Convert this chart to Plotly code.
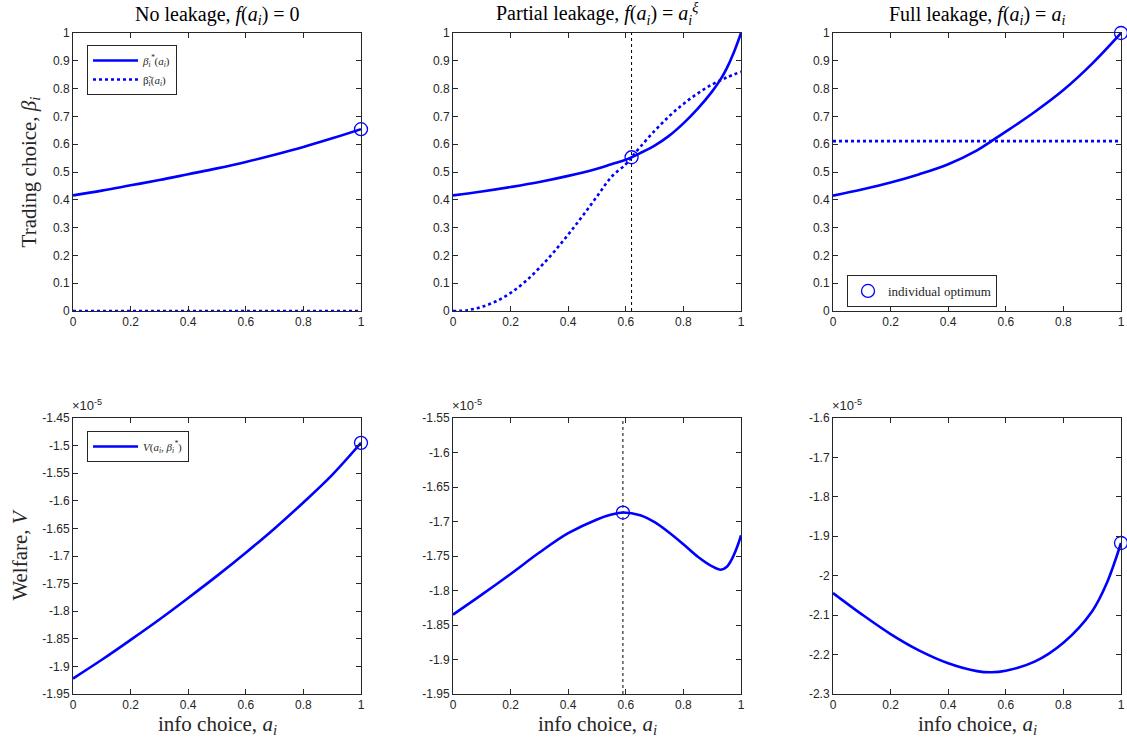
import plotly.graph_objects as go

# ---------------- data ----------------
a_grid = [0, 0.1, 0.2, 0.3, 0.4, 0.5, 0.6, 0.7, 0.8, 0.9, 1.0]

# Top row: trading choice
noleak_beta_star = [0.416, 0.433, 0.452, 0.471, 0.492, 0.513, 0.536, 0.562, 0.590, 0.621, 0.654]
noleak_beta_tilde = [0, 0, 0, 0, 0, 0, 0, 0, 0, 0, 0]

partial_a = [0, 0.1, 0.2, 0.3, 0.4, 0.5, 0.55, 0.6, 0.62, 0.65, 0.7, 0.75, 0.8, 0.85, 0.9, 0.93, 0.95, 0.975, 1.0]
partial_beta_star = [0.416, 0.430, 0.446, 0.464, 0.486, 0.512, 0.528, 0.544, 0.553, 0.568, 0.595, 0.630,
                     0.675, 0.728, 0.790, 0.835, 0.872, 0.930, 1.0]
partial_a_tilde = [0, 0.05, 0.1, 0.15, 0.2, 0.25, 0.3, 0.35, 0.4, 0.45, 0.5, 0.55, 0.6, 0.62, 0.65, 0.7,
                   0.75, 0.8, 0.85, 0.9, 0.95, 1.0]
partial_beta_tilde = [0, 0.003, 0.015, 0.035, 0.065, 0.105, 0.155, 0.212, 0.275, 0.342, 0.412, 0.482,
                      0.528, 0.553, 0.590, 0.648, 0.700, 0.745, 0.783, 0.815, 0.840, 0.861]

full_a = [0, 0.1, 0.2, 0.3, 0.4, 0.5, 0.55, 0.6, 0.7, 0.8, 0.9, 1.0]
full_beta_star = [0.415, 0.437, 0.462, 0.492, 0.528, 0.578, 0.611, 0.645, 0.716, 0.795, 0.890, 1.0]
full_beta_tilde = [0.611] * len(full_a)

# Bottom row: welfare (units of 1e-5)
noleak_welfare = [-1.922, -1.888, -1.852, -1.815, -1.776, -1.736, -1.694, -1.650, -1.603, -1.553, -1.495]

partial_wa = [0, 0.1, 0.2, 0.3, 0.4, 0.5, 0.55, 0.59, 0.65, 0.7, 0.75, 0.8, 0.85, 0.9, 0.93, 0.95, 0.97, 0.99, 1.0]
partial_welfare = [-1.835, -1.806, -1.776, -1.745, -1.717, -1.697, -1.690, -1.687, -1.691, -1.701, -1.716,
                   -1.733, -1.751, -1.765, -1.770, -1.766, -1.753, -1.733, -1.720]

full_wa = [0, 0.1, 0.2, 0.3, 0.4, 0.5, 0.55, 0.6, 0.7, 0.8, 0.9, 0.95, 1.0]
full_welfare = [-2.044, -2.098, -2.148, -2.190, -2.222, -2.242, -2.245, -2.241, -2.218, -2.170, -2.090,
                -2.020, -1.917]

# individual optima (a, value) per panel
opt_top = [(1.0, 0.654), (0.62, 0.553), (1.0, 1.0)]
opt_bottom = [(1.0, -1.495), (0.59, -1.687), (1.0, -1.917)]

# ticks
x_ticks = [0, 0.2, 0.4, 0.6, 0.8, 1.0]
x_ticktext = ["0", "0.2", "0.4", "0.6", "0.8", "1"]
top_yticks = [0, 0.1, 0.2, 0.3, 0.4, 0.5, 0.6, 0.7, 0.8, 0.9, 1.0]
top_yticktext = ["0", "0.1", "0.2", "0.3", "0.4", "0.5", "0.6", "0.7", "0.8", "0.9", "1"]
b1_yticks = [-1.95, -1.9, -1.85, -1.8, -1.75, -1.7, -1.65, -1.6, -1.55, -1.5, -1.45]
b1_yticktext = ["-1.95", "-1.9", "-1.85", "-1.8", "-1.75", "-1.7", "-1.65", "-1.6", "-1.55", "-1.5", "-1.45"]
b2_yticks = [-1.95, -1.9, -1.85, -1.8, -1.75, -1.7, -1.65, -1.6, -1.55]
b2_yticktext = ["-1.95", "-1.9", "-1.85", "-1.8", "-1.75", "-1.7", "-1.65", "-1.6", "-1.55"]
b3_yticks = [-2.3, -2.2, -2.1, -2.0, -1.9, -1.8, -1.7, -1.6]
b3_yticktext = ["-2.3", "-2.2", "-2.1", "-2", "-1.9", "-1.8", "-1.7", "-1.6"]

titles = ["No leakage, <i>f</i>(<i>a<sub>i</sub></i>) = 0",
          "Partial leakage, <i>f</i>(<i>a<sub>i</sub></i>) = <i>a<sub>i</sub><sup>ξ</sup></i>",
          "Full leakage, <i>f</i>(<i>a<sub>i</sub></i>) = <i>a<sub>i</sub></i>"]
x_title = "info choice, <i>a<sub>i</sub></i>"

# ---------------- figure ----------------
W, H = 1127, 743
BLUE = "#0000FF"
AX = "#262626"
SERIF = "Liberation Serif"
SANS = "Liberation Sans"

col_px = [(73, 361), (453, 741), (833, 1121)]
row_px = [(33, 311), (418, 694)]


def px_x(p):
    return p / W


def px_y(p):
    return (H - p) / H


def xdom(c):
    return [px_x(col_px[c][0]), px_x(col_px[c][1])]


def ydom(r):
    return [px_y(row_px[r][1]), px_y(row_px[r][0])]


fig = go.Figure()
line_w = 2.6


def ax(i):
    return ("x" if i == 1 else f"x{i}"), ("y" if i == 1 else f"y{i}")


# Top-left
xa, ya = ax(1)
fig.add_trace(go.Scatter(x=a_grid, y=noleak_beta_star, mode="lines", line=dict(color=BLUE, width=line_w, shape="spline"),
                         name="<i>β<sub>i</sub><sup>*</sup></i>(<i>a<sub>i</sub></i>)", xaxis=xa, yaxis=ya, legend="legend"))
fig.add_trace(go.Scatter(x=a_grid, y=noleak_beta_tilde, mode="lines", line=dict(color=BLUE, width=line_w, dash="dot"),
                         name="β̃<sub>i</sub>(<i>a<sub>i</sub></i>)", xaxis=xa, yaxis=ya, legend="legend", cliponaxis=False))
# Top-middle
xa, ya = ax(2)
fig.add_trace(go.Scatter(x=[opt_top[1][0]] * 2, y=[0, 1], mode="lines", line=dict(color="black", width=1, dash="dot"),
                         showlegend=False, xaxis=xa, yaxis=ya))
fig.add_trace(go.Scatter(x=partial_a, y=partial_beta_star, mode="lines", line=dict(color=BLUE, width=line_w, shape="spline"),
                         showlegend=False, xaxis=xa, yaxis=ya))
fig.add_trace(go.Scatter(x=partial_a_tilde, y=partial_beta_tilde, mode="lines",
                         line=dict(color=BLUE, width=line_w, dash="dot", shape="spline"),
                         showlegend=False, xaxis=xa, yaxis=ya, cliponaxis=False))
# Top-right
xa, ya = ax(3)
fig.add_trace(go.Scatter(x=full_a, y=full_beta_star, mode="lines", line=dict(color=BLUE, width=line_w, shape="spline"),
                         showlegend=False, xaxis=xa, yaxis=ya))
fig.add_trace(go.Scatter(x=full_a, y=full_beta_tilde, mode="lines", line=dict(color=BLUE, width=line_w, dash="dot"),
                         showlegend=False, xaxis=xa, yaxis=ya))
# Bottom-left
xa, ya = ax(4)
fig.add_trace(go.Scatter(x=a_grid, y=noleak_welfare, mode="lines", line=dict(color=BLUE, width=line_w, shape="spline"),
                         name="<i>V</i>(<i>a<sub>i</sub></i>, <i>β<sub>i</sub><sup>*</sup></i>)", xaxis=xa, yaxis=ya, legend="legend3"))
# Bottom-middle
xa, ya = ax(5)
fig.add_trace(go.Scatter(x=[opt_bottom[1][0]] * 2, y=[-1.95, -1.55], mode="lines",
                         line=dict(color="black", width=1, dash="dot"), showlegend=False, xaxis=xa, yaxis=ya))
fig.add_trace(go.Scatter(x=partial_wa, y=partial_welfare, mode="lines", line=dict(color=BLUE, width=line_w, shape="spline"),
                         showlegend=False, xaxis=xa, yaxis=ya))
# Bottom-right
xa, ya = ax(6)
fig.add_trace(go.Scatter(x=full_wa, y=full_welfare, mode="lines", line=dict(color=BLUE, width=line_w, shape="spline"),
                         showlegend=False, xaxis=xa, yaxis=ya))

# optimum markers
for i, (ox, oy) in enumerate(opt_top):
    xa, ya = ax(i + 1)
    fig.add_trace(go.Scatter(x=[ox], y=[oy], mode="markers",
                             marker=dict(symbol="circle-open", size=13, color=BLUE, line=dict(width=1.3, color=BLUE)),
                             name="individual optimum", showlegend=(i == 2), legend="legend2",
                             xaxis=xa, yaxis=ya, cliponaxis=False))
for i, (ox, oy) in enumerate(opt_bottom):
    xa, ya = ax(i + 4)
    fig.add_trace(go.Scatter(x=[ox], y=[oy], mode="markers",
                             marker=dict(symbol="circle-open", size=13, color=BLUE, line=dict(width=1.3, color=BLUE)),
                             showlegend=False, xaxis=xa, yaxis=ya, cliponaxis=False))

axis_common = dict(showline=True, linecolor=AX, linewidth=1, mirror="ticks", ticks="inside", ticklen=5,
                   tickcolor=AX, showgrid=False, zeroline=False, automargin=False,
                   tickfont=dict(family=SANS, size=12, color=AX))

yspecs = [
    ([0, 1], top_yticks, top_yticktext),
    ([0, 1], top_yticks, top_yticktext),
    ([0, 1], top_yticks, top_yticktext),
    ([-1.95, -1.45], b1_yticks, b1_yticktext),
    ([-1.95, -1.55], b2_yticks, b2_yticktext),
    ([-2.3, -1.6], b3_yticks, b3_yticktext),
]

layout = {}
for i in range(6):
    r, c = divmod(i, 3)
    xname = "xaxis" if i == 0 else f"xaxis{i + 1}"
    yname = "yaxis" if i == 0 else f"yaxis{i + 1}"
    xa, ya = ax(i + 1)
    layout[xname] = dict(axis_common, domain=xdom(c), range=[0, 1], tickvals=x_ticks, ticktext=x_ticktext,
                         anchor=ya)
    rng, tv, tt = yspecs[i]
    layout[yname] = dict(axis_common, domain=ydom(r), range=rng, tickvals=tv, ticktext=tt, anchor=xa)
layout["yaxis"]["title"] = dict(text="Trading choice, <i>β<sub>i</sub></i>", font=dict(family=SERIF, size=21, color=AX),
                                standoff=10)
layout["yaxis4"]["title"] = dict(text="Welfare, <i>V</i>", font=dict(family=SERIF, size=21, color=AX), standoff=8)

fig.update_layout(**layout)

annotations = []
for c in range(3):
    xc = px_x((col_px[c][0] + col_px[c][1]) / 2)
    annotations.append(dict(text=titles[c], x=xc, y=px_y(30),
                            xref="paper", yref="paper", xanchor="center", yanchor="bottom", showarrow=False,
                            font=dict(family=SERIF, size=20, color="black")))
    annotations.append(dict(text=x_title, x=xc, y=px_y(725),
                            xref="paper", yref="paper", xanchor="center", yanchor="middle", showarrow=False,
                            font=dict(family=SERIF, size=21, color=AX)))
    annotations.append(dict(text="×10<sup>-5</sup>", x=px_x(col_px[c][0] - 3), y=px_y(415),
                            xref="paper", yref="paper", xanchor="left", yanchor="bottom", showarrow=False,
                            font=dict(family=SANS, size=13, color=AX)))

legend_style = dict(bgcolor="white", bordercolor=AX, borderwidth=1, xref="paper", yref="paper",
                    xanchor="left", yanchor="top", font=dict(family=SERIF, size=11, color=AX),
                    tracegroupgap=0, itemwidth=45)

fig.update_layout(
    width=W, height=H, margin=dict(l=0, r=0, t=0, b=0, autoexpand=False),
    paper_bgcolor="white", plot_bgcolor="white",
    annotations=annotations,
    legend=dict(legend_style, x=px_x(87), y=px_y(45)),
    legend2=dict(legend_style, x=px_x(847), y=px_y(275), orientation="h", itemwidth=30,
                 font=dict(family=SERIF, size=13, color=AX)),
    legend3=dict(legend_style, x=px_x(87), y=px_y(431)),
)

# remove the page's default body margin so the figure sits at the window's top-left corner
page_js = ("document.body.style.margin='0px';document.body.style.overflow='hidden';"
           "document.documentElement.style.overflow='hidden';")

fig.write_html("out.html", post_script=page_js, config={"displayModeBar": False})
